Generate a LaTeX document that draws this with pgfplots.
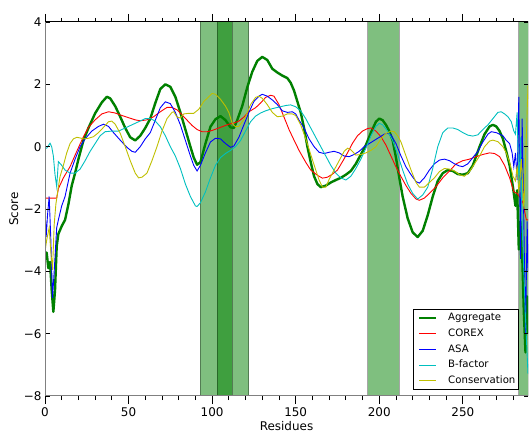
\documentclass[border=0pt]{standalone}
\usepackage{pgfplots}
\pgfplotsset{compat=1.18}
\usepackage{fontspec}
\setmainfont{DejaVu Sans}
\definecolor{mplg}{rgb}{0,0.5,0}
\definecolor{mplc}{rgb}{0,0.75,0.75}
\definecolor{mply}{rgb}{0.75,0.75,0}
\definecolor{spinegray}{rgb}{0.5,0.5,0.5}
\begin{document}
\begin{tikzpicture}
\useasboundingbox (0,0) rectangle (529bp,433bp);
\begin{axis}[
  at={(45bp,37bp)}, anchor=south west, scale only axis,
  width=483bp, height=374bp,
  xmin=0, xmax=289, ymin=-8, ymax=4,
  axis line style={draw=none},
  xtick={0,50,...,250}, minor xtick={10,20,30,40,60,70,80,90,110,120,130,140,160,170,180,190,210,220,230,240,260,270,280},
  xtick pos=both, xticklabel pos=bottom,
  ytick=\empty,
  tick align=outside,
  major tick length=8bp, minor tick length=4bp,
  every tick/.style={black, line width=0.9bp},
  tick label style={font=\fontsize{12}{14}\selectfont},
  /pgf/number format/assume math mode=true,
  xlabel={Residues}, ylabel={Score},
  every axis x label/.style={at={(axis description cs:0.5,0)}, anchor=base, yshift=-34bp, font=\fontsize{12}{14}\selectfont},
  every axis y label/.style={at={(axis description cs:0,0.5)}, xshift=-27bp, rotate=90, anchor=base, font=\fontsize{12}{14}\selectfont},
  legend style={at={(0.981,0.016)}, anchor=south east, draw=black, line width=0.8bp,
    font=\fontsize{10.2}{12}\selectfont, fill=white,
    inner xsep=2bp, inner ysep=3bp, row sep=4.25bp, column sep=9.7bp,
    nodes={inner sep=1bp, text height=7.5bp, text depth=2bp}},
  legend cell align=left,
  legend image code/.code={\path (0bp,0bp); \draw[#1] (3bp,0bp) -- (20bp,0bp);},
]
% highlighted regions
\addplot[forget plot, fill=mplg, fill opacity=0.5, draw=black, draw opacity=0.35, line width=1bp] coordinates {(93,-8) (93,4) (122,4) (122,-8)} -- cycle;
\addplot[forget plot, fill=mplg, fill opacity=0.5, draw=black, draw opacity=0.35, line width=1bp] coordinates {(103,-8) (103,4) (112,4) (112,-8)} -- cycle;
\addplot[forget plot, fill=mplg, fill opacity=0.5, draw=black, draw opacity=0.35, line width=1bp] coordinates {(193,-8) (193,4) (212,4) (212,-8)} -- cycle;
\addplot[forget plot, fill=mplg, fill opacity=0.5, draw=black, draw opacity=0.35, line width=1bp] coordinates {(283.5,-8) (283.5,4) (292,4) (292,-8)} -- cycle;

% Aggregate
\addplot[mplg, line width=2.4bp, line join=round] coordinates {
(0,-3.4) (1,-3.4) (2,-3.9) (3,-3.7) (4,-4.6) (5,-5.3) (6,-4.6) (7,-3.2) (8,-2.8) (10,-2.55) (12,-2.35) (14,-1.85) (16,-1.25) (18,-0.85) (20,-0.4) (23,0.2) (26,0.6) (30,1.07) (34,1.42) (37,1.6) (39,1.55) (42,1.3) (45,0.96) (48,0.6) (51,0.3) (54,0.2) (57,0.35) (60,0.6) (63,0.9) (66,1.4) (69,1.85) (72,2.0) (75,1.92) (78,1.6) (81,1.1) (84,0.55) (87,0.0) (89,-0.35) (91,-0.58) (93,-0.5) (96,0.1) (99,0.64) (102,0.88) (105,0.98) (108,0.85) (111,0.62) (113,0.6) (115,0.85) (118,1.3) (121,1.9) (124,2.4) (127,2.75) (130,2.88) (133,2.78) (136,2.5) (139,2.38) (142,2.28) (145,2.2) (147,2.05) (149,1.8) (151,1.45) (153,1.1) (155,0.6) (157,0.0) (159,-0.5) (161,-0.95) (163,-1.2) (165,-1.3) (168,-1.25) (171,-1.15) (174,-1.07) (177,-1.0) (180,-0.9) (183,-0.78) (186,-0.55) (189,-0.25) (192,0.05) (195,0.45) (198,0.8) (200,0.9) (202,0.85) (204,0.7) (206,0.5) (208,0.2) (210,-0.35) (212,-1.0) (214,-1.6) (217,-2.3) (220,-2.75) (223,-2.9) (226,-2.7) (229,-2.2) (232,-1.6) (235,-1.1) (238,-0.85) (241,-0.75) (244,-0.78) (247,-0.88) (250,-0.9) (253,-0.85) (256,-0.6) (258,-0.3) (260,0.0) (263,0.4) (266,0.65) (268,0.7) (270,0.65) (272,0.5) (274,0.25) (276,-0.15) (278,-0.6) (280,-1.3) (281.5,-1.9) (282.5,-1.4) (283.5,-3.3) (284.5,-2.4) (285.5,-3.4) (286.5,-5.3) (287.5,-6.6) (288.3,-4.8) (289,-6.0)
};
\addlegendentry{Aggregate}
% COREX
\addplot[red, line width=0.9bp] coordinates {
(0,-1.65) (7,-1.65) (8,-1.35) (11,-1.0) (15,-0.64) (19,-0.15) (23,0.32) (26,0.62) (30,0.86) (34,1.05) (38,1.12) (42,1.08) (46,1.0) (50,0.93) (54,0.86) (57,0.83) (61,0.86) (65,0.96) (69,1.12) (73,1.26) (76,1.26) (79,1.18) (82,1.02) (85,0.85) (88,0.68) (91,0.55) (94,0.48) (97,0.48) (100,0.52) (103,0.58) (106,0.64) (110,0.72) (113,0.76) (116,0.82) (119,0.95) (122,1.12) (126,1.25) (129,1.4) (132,1.58) (135,1.65) (137,1.62) (140,1.35) (143,0.95) (146,0.55) (149,0.21) (152,-0.12) (156,-0.5) (159,-0.75) (163,-0.92) (166,-1.01) (169,-0.98) (172,-0.88) (175,-0.75) (178,-0.48) (181,-0.2) (184,0.11) (187,0.35) (190,0.5) (193,0.58) (195,0.6) (198,0.5) (201,0.32) (204,0.05) (207,-0.3) (210,-0.65) (213,-0.96) (216,-1.25) (219,-1.5) (222,-1.68) (224,-1.72) (227,-1.65) (230,-1.5) (234,-1.28) (238,-1.0) (242,-0.78) (246,-0.55) (250,-0.45) (254,-0.4) (258,-0.32) (262,-0.25) (266,-0.2) (269,-0.22) (272,-0.32) (275,-0.6) (278,-1.0) (280.5,-1.45) (282.5,-1.5) (284.5,-1.65) (286,-1.8) (288,-2.35) (289,-2.35)
};
\addlegendentry{COREX}
% ASA
\addplot[blue, line width=0.9bp] coordinates {
(0,-1.97) (0.7,-2.9) (1.5,-2.2) (2.5,-1.6) (3.5,-3.0) (4.5,-4.86) (5.5,-4.0) (7,-2.6) (8,-2.35) (10,-1.9) (12,-1.6) (15,-0.85) (18,-0.4) (21,0.0) (24,0.25) (28,0.5) (32,0.65) (35,0.72) (38,0.65) (41,0.45) (45,0.21) (49,-0.02) (52,-0.15) (54,-0.18) (57,0.0) (60,0.25) (63,0.45) (66,0.85) (69,1.25) (72,1.44) (75,1.38) (78,1.1) (81,0.7) (84,0.2) (87,-0.3) (89,-0.6) (91,-0.78) (93,-0.6) (96,-0.2) (99,0.15) (102,0.27) (105,0.25) (108,0.1) (111,-0.02) (113,0.02) (116,0.3) (119,0.7) (122,1.1) (125,1.45) (128,1.62) (130,1.68) (133,1.62) (136,1.5) (139,1.35) (142,1.15) (145,1.1) (148,1.12) (150,1.05) (152,0.85) (155,0.6) (158,0.25) (161,0.0) (164,-0.18) (167,-0.22) (170,-0.18) (173,-0.15) (176,-0.2) (179,-0.3) (182,-0.32) (185,-0.25) (188,-0.15) (191,0.0) (194,0.1) (197,0.2) (200,0.3) (203,0.4) (205,0.43) (207,0.38) (210,0.1) (213,-0.3) (216,-0.65) (219,-0.9) (222,-1.12) (224,-1.17) (227,-1.0) (230,-0.75) (233,-0.55) (236,-0.43) (239,-0.4) (242,-0.45) (245,-0.55) (248,-0.62) (250,-0.64) (253,-0.55) (256,-0.35) (259,-0.15) (262,0.15) (265,0.4) (267,0.48) (270,0.45) (272,0.4) (274,0.35) (276,0.2) (278,0.1) (279.5,-0.2) (280.5,-0.64) (281.5,-0.2) (282.5,-1.07) (283.5,1.6) (284.5,-3.6) (285.5,0.9) (286.5,-2.4) (287.5,-6.0) (288.5,-2.4) (289,-4.0)
};
\addlegendentry{ASA}
% B-factor
\addplot[mplc, line width=0.9bp] coordinates {
(0,-0.05) (1,-0.05) (3,0.11) (4,0.0) (5,-0.3) (6,-0.9) (7,-1.28) (8,-0.48) (10,-0.6) (12,-0.75) (15,-0.85) (18,-0.85) (21,-0.72) (24,-0.45) (27,-0.15) (30,0.1) (33,0.35) (36,0.48) (40,0.5) (44,0.5) (48,0.6) (52,0.7) (56,0.8) (60,0.9) (63,0.9) (66,0.82) (69,0.64) (72,0.35) (75,0.0) (78,-0.3) (81,-0.7) (84,-1.2) (87,-1.6) (90,-1.9) (91,-1.92) (93,-1.8) (96,-1.45) (99,-1.0) (102,-0.6) (105,-0.35) (108,-0.22) (111,-0.12) (114,0.0) (117,0.2) (120,0.5) (123,0.8) (126,0.98) (129,1.08) (132,1.15) (136,1.22) (140,1.27) (144,1.32) (147,1.34) (150,1.28) (153,1.15) (156,0.9) (159,0.6) (162,0.3) (165,0.0) (168,-0.3) (171,-0.6) (174,-0.85) (177,-1.0) (180,-1.07) (183,-0.95) (186,-0.7) (189,-0.4) (192,-0.05) (195,0.35) (198,0.65) (200,0.75) (202,0.7) (205,0.5) (208,0.2) (211,-0.25) (214,-0.75) (217,-1.2) (220,-1.5) (223,-1.68) (226,-1.55) (229,-1.3) (232,-0.7) (235,0.0) (238,0.45) (241,0.6) (244,0.6) (247,0.55) (250,0.45) (253,0.37) (256,0.34) (259,0.38) (262,0.55) (265,0.7) (268,0.9) (271,1.1) (273,1.12) (275,1.05) (277,0.96) (279,0.8) (280.5,0.5) (281.5,0.4) (282.5,1.1) (283.5,-1.4) (284.5,0.3) (285.5,-2.5) (286.5,-4.0) (287.5,-5.5) (289,-7.3)
};
\addlegendentry{B-factor}
% Conservation
\addplot[mply, line width=0.9bp] coordinates {
(0,-3.37) (1,-3.0) (2.5,-2.6) (3.5,-3.4) (4.5,-3.95) (5.5,-2.5) (6.5,-1.85) (8,-1.3) (9,-0.96) (11,-0.6) (13,-0.2) (15,0.1) (17,0.25) (19,0.3) (21,0.28) (23,0.25) (26,0.27) (29,0.32) (32,0.45) (35,0.62) (38,0.8) (40,0.82) (42,0.72) (45,0.43) (48,0.0) (51,-0.45) (54,-0.85) (56,-1.0) (58,-0.98) (61,-0.85) (64,-0.45) (67,0.0) (70,0.5) (73,0.9) (76,1.1) (77,1.12) (79,0.95) (81,0.92) (83,1.05) (86,1.07) (89,1.07) (92,1.2) (95,1.45) (98,1.6) (100,1.71) (102,1.68) (105,1.52) (108,1.3) (110,1.1) (112,0.75) (114,0.64) (116,0.65) (118,0.8) (120,0.95) (123,1.35) (126,1.58) (128,1.62) (130,1.55) (133,1.35) (136,1.1) (139,0.96) (142,0.98) (145,1.05) (148,1.05) (150,1.0) (153,0.7) (156,0.25) (159,-0.25) (162,-0.75) (164,-1.07) (166,-1.3) (168,-1.3) (170,-1.05) (173,-0.75) (176,-0.45) (179,-0.15) (181,-0.05) (183,-0.1) (186,-0.27) (189,-0.25) (192,-0.2) (195,-0.12) (198,0.0) (201,0.25) (204,0.42) (207,0.5) (209,0.48) (211,0.35) (213,0.15) (216,-0.3) (219,-0.75) (222,-1.15) (224,-1.3) (227,-1.3) (230,-1.15) (233,-1.0) (236,-0.8) (239,-0.7) (242,-0.72) (245,-0.78) (248,-0.9) (251,-0.95) (254,-0.8) (257,-0.55) (260,-0.3) (263,0.0) (266,0.18) (268,0.21) (271,0.16) (274,0.0) (276,-0.2) (278,-0.5) (280,-0.95) (281.5,-1.1) (282.5,-0.6) (283.5,-1.5) (285,-0.4) (286.5,-2.0) (288,0.3) (289,2.0)
};
\addlegendentry{Conservation}
\end{axis}
\begin{axis}[
  at={(45bp,37bp)}, anchor=south west, scale only axis,
  width=483bp, height=374bp,
  xmin=0, xmax=289, ymin=-8, ymax=4,
  axis line style={draw=none},
  xtick=\empty,
  ytick={-8,-6,...,4},
  yticklabels={−8,−6,−4,−2,0,2,4},
  ytick pos=both, yticklabel pos=left,
  tick align=inside,
  major tick length=4.5bp,
  every tick/.style={black, line width=0.9bp},
  tick label style={font=\fontsize{12}{14}\selectfont},
]
\draw[black, line width=1bp] (rel axis cs:0,1) -- (rel axis cs:1,1) -- (rel axis cs:1,0);
\draw[spinegray, line width=1.7bp] (rel axis cs:0,1) -- (rel axis cs:0,0) -- (rel axis cs:1,0);
\end{axis}
\end{tikzpicture}
\end{document}
